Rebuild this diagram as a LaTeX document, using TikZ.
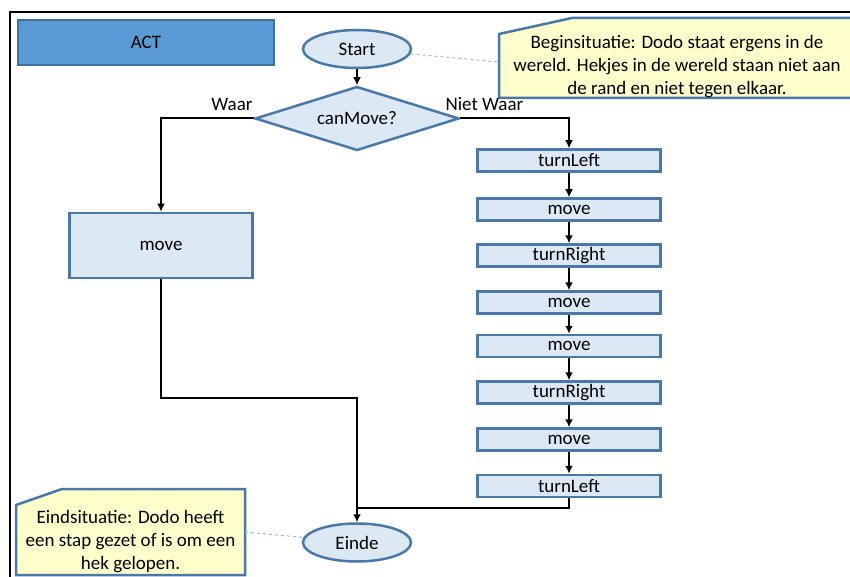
\documentclass[tikz,border=0pt]{standalone}
\usepackage{fontspec}
\setmainfont{Carlito}
\usetikzlibrary{arrows,arrows.meta,shapes}
\pgfdeclarelayer{background}
\pgfsetlayers{background,main}
\definecolor{actfill}{RGB}{91,155,213}
\definecolor{actedge}{RGB}{65,113,156}
\definecolor{boxfill}{RGB}{221,232,245}
\definecolor{boxedge}{RGB}{74,120,170}
\definecolor{notefill}{RGB}{255,255,204}
\definecolor{linkblue}{RGB}{150,185,220}
\tikzstyle{title}=[rectangle,draw=actedge,fill=actfill,line width=2.5pt,minimum width=256pt,minimum height=45pt,inner sep=0pt]
\tikzstyle{terminal}=[ellipse,draw=boxedge,fill=boxfill,line width=2.5pt,minimum width=108pt,minimum height=38pt,inner sep=0pt]
\tikzstyle{decision}=[diamond,aspect=3.1,draw=boxedge,fill=boxfill,line width=2.5pt,minimum width=204pt,minimum height=64pt,inner sep=0pt]
\tikzstyle{action}=[rectangle,draw=boxedge,fill=boxfill,line width=2.5pt,minimum width=183pt,minimum height=22pt,inner sep=0pt]
\tikzstyle{big action}=[action,minimum height=65pt]
\tikzstyle{note}=[align=center,inner sep=0pt]
\tikzstyle{note box}=[draw=boxedge,fill=notefill,line width=2.5pt]
\tikzstyle{edge}=[draw,line width=2pt,-]
\tikzstyle{flow}=[edge,-{Latex[length=8pt,width=8pt]}]
\tikzstyle{link}=[draw=linkblue,line width=1pt,dashed]
\tikzstyle{frame}=[draw,line width=2.5pt]

\begin{document}
\begin{tikzpicture}[x=1pt,y=-1pt,font=\fontsize{19}{23}\selectfont]
    \useasboundingbox (0,0) rectangle (850,577);
    % Outer frame
    \path[frame] (10,577) -- (10,12) -- (850,12);
    \node[title] (act) at (146,42.5) {ACT};

    % Start, decision and end
    \node[terminal] (start) at (357,49) {Start};
    \node[decision] (dec) at (357,118.5) {canMove?};
    \node[terminal] (einde) at (357,542.5) {Einde};
    \node[anchor=base east] (waar) at (256,111) {Waar};
    \node[anchor=base west] (nietwaar) at (442,111) {Niet Waar};

    % The two branches
    \node[big action] (movel) at (161,245.5) {move};
    \foreach \pos/\name/\txt in {{(569,160.5)/left1/turnLeft}, {(569,209.5)/move1/move}, {(569,255.5)/right1/turnRight}, {(569,302.5)/move2/move}, {(569,346)/move3/move}, {(569,392.5)/right2/turnRight}, {(569,439.5)/move4/move}, {(569,486)/left2/turnLeft}}
        \node[action] (\name) at \pos {\txt};

    % Connect them
    \coordinate (joinl) at (357,398);
    \coordinate (joinr) at (357,508);
    \path[flow] (start) -- (dec);
    \path[flow] (dec.west) -| (movel);
    \path[flow] (dec.east) -| (left1);
    \foreach \source/\dest in {left1/move1, move1/right1, right1/move2, move2/move3, move3/right2, right2/move4, move4/left2}
        \path[flow] (\source) -- (\dest);
    \path[flow] (movel) |- (joinl) -- (einde);
    \path[edge] (left2) |- (joinr);

    % Notes
    \node[note] (begintxt) at (677,67) {Beginsituatie: Dodo staat ergens in de\\wereld. Hekjes in de wereld staan niet aan\\de rand en niet tegen elkaar.};
    \node[note] (endtxt) at (130.5,542) {Eindsituatie: Dodo heeft\\een stap gezet of is om een\\hek gelopen.};
    \begin{pgfonlayer}{background}
        \path[note box] (499,34) -- (572,18) -- (858,18) -- (858,98) -- (499,98) -- cycle;
        \path[note box] (16,505) -- (62,489) -- (245,489) -- (245,575) -- (16,575) -- cycle;
    \end{pgfonlayer}
    \coordinate (beginedge) at (499,62);
    \coordinate (endedge) at (245,532);
    \path[link] (start) -- (beginedge);
    \path[link] (endedge) -- (einde);
\end{tikzpicture}
\end{document}
